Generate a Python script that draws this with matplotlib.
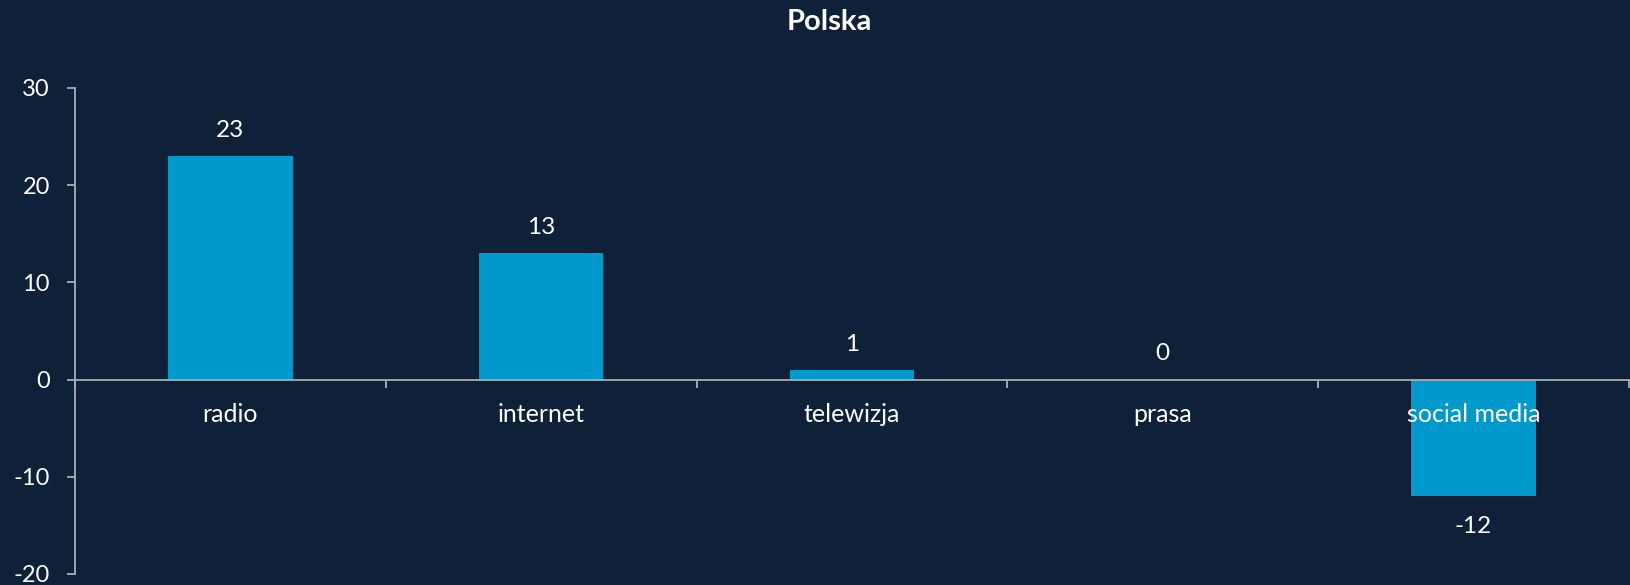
import matplotlib
matplotlib.use("Agg")
import matplotlib.pyplot as plt
import numpy as np

categories = ["radio", "internet", "telewizja", "prasa", "social media"]
values = [23, 13, 1, 0, -12]
yticks = [-20, -10, 0, 10, 20, 30]
title = "Polska"

BG = "#0E2139"
BAR = "#0099CC"
AX = "#A8AEB4"
TXT = "#FFFFFF"

plt.rcParams['font.family'] = ['Lato', 'DejaVu Sans']

W, H = 1630, 585
fig = plt.figure(figsize=(W / 100, H / 100), dpi=100, facecolor=BG)
ax = fig.add_axes([75 / W, 1 - 574 / H, (1629 - 75) / W, (574 - 88) / H])
ax.set_facecolor(BG)

x = np.arange(len(categories))
ax.bar(x, values, width=0.4, color=BAR, zorder=1)

ax.set_xlim(-0.5, len(categories) - 0.5)
ax.set_ylim(-20, 30)
ax.set_yticks(yticks)
ax.set_yticklabels([str(v) for v in yticks])

for s in ["top", "right"]:
    ax.spines[s].set_visible(False)
ax.spines["bottom"].set_position(("data", 0))
ax.spines["bottom"].set_color(AX)
ax.spines["left"].set_color(AX)
ax.spines["bottom"].set_linewidth(1.3)
ax.spines["left"].set_linewidth(1.3)

ax.set_xticks(x)
ax.set_xticklabels(categories)
ax.set_xticks(np.arange(len(categories) + 1) - 0.5, minor=True)
ax.tick_params(axis="x", which="major", length=0, pad=17, labelsize=18, colors=TXT)
ax.tick_params(axis="x", which="minor", length=6, width=1.3, color=AX, direction="out")
ax.tick_params(axis="y", length=6, width=1.3, color=AX, pad=12, labelsize=17, labelcolor=TXT)

for xi, v in zip(x, values):
    if v >= 0:
        ax.annotate(str(v), (xi, v), xytext=(0, 11), textcoords="offset points",
                    ha="center", va="bottom", color=TXT, fontsize=17.5)
    else:
        ax.annotate(str(v), (xi, v), xytext=(0, -14), textcoords="offset points",
                    ha="center", va="top", color=TXT, fontsize=17.5)

fig.text(829 / W, 1 - 22 / H, title, ha="center", va="center", color=TXT,
         fontsize=21, fontweight="bold")

fig.savefig("out.png", dpi=100, facecolor=BG)
